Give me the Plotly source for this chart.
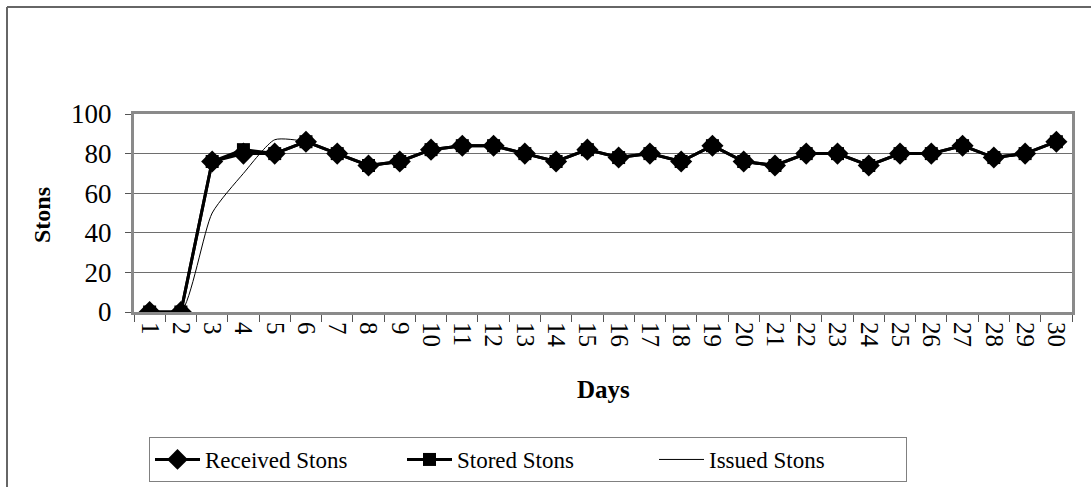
import plotly.graph_objects as go

days = [str(d) for d in range(1, 31)]
received = [0, 0, 76, 80, 80, 86, 80, 74, 76, 82, 84, 84, 80, 76, 82, 78, 80, 76, 84, 76,
            74, 80, 80, 74, 80, 80, 84, 78, 80, 86]
stored = [0, 0, 76, 82, 80, 86, 80, 74, 76, 82, 84, 84, 80, 76, 82, 78, 80, 76, 84, 76,
          74, 80, 80, 74, 80, 80, 84, 78, 80, 86]
issued = [0, 0, 50, 70, 87, 86, 80, 74, 76, 82, 84, 84, 80, 76, 82, 78, 80, 76, 84, 76,
          74, 80, 80, 74, 80, 80, 84, 78, 80, 86]
y_ticks = [0, 20, 40, 60, 80, 100]

FONT = "Liberation Serif, Times New Roman, serif"
W, H = 1091, 487
L, R, T, B = 134, 19, 114, 175
pw, ph = W - L - R, H - T - B

def px(x):
    return (x - L) / pw

def py(y):
    return (H - B - y) / ph

fig = go.Figure()
fig.add_trace(go.Scatter(
    x=days, y=issued, name="Issued Stons", mode="lines",
    line=dict(color="black", width=1, shape="spline", smoothing=0.6),
))
fig.add_trace(go.Scatter(
    x=days, y=stored, name="Stored Stons", mode="lines+markers",
    line=dict(color="black", width=3),
    marker=dict(symbol="square", size=13, color="black"),
))
fig.add_trace(go.Scatter(
    x=days, y=received, name="Received Stons", mode="lines+markers",
    line=dict(color="black", width=3),
    marker=dict(symbol="diamond", size=17, color="black"),
))

fig.update_layout(
    width=W, height=H,
    margin=dict(l=L, r=R, t=T, b=B, autoexpand=False),
    paper_bgcolor="white", plot_bgcolor="white",
    font=dict(family=FONT, size=24, color="black"),
    showlegend=True,
    legend=dict(
        orientation="h", traceorder="reversed",
        x=px(149), y=py(437), xanchor="left", yanchor="top",
        bordercolor="#808080", borderwidth=1,
        font=dict(family=FONT, size=23, color="black"),
        itemwidth=45, entrywidth=192,
    ),
    xaxis=dict(
        type="category", range=[-0.5, 29.5],
        tickangle=90, tickson="boundaries",
        ticks="outside", ticklen=7, tickcolor="#555555",
        showline=True, linecolor="#8a8a8a", linewidth=3, mirror=True,
        showgrid=False, tickfont=dict(family=FONT, size=25),
        ticklabelstandoff=2,
    ),
    yaxis=dict(
        range=[0, 100], tickvals=y_ticks,
        ticks="outside", ticklen=6, tickcolor="#555555",
        showline=True, linecolor="#8a8a8a", linewidth=3, mirror=True,
        showgrid=True, gridcolor="#6e6e6e", gridwidth=1,
        tickfont=dict(family=FONT, size=27), zeroline=False,
        ticklabelstandoff=8,
    ),
    annotations=[
        dict(text="<b>Stons</b>", x=px(42), y=py(215), xref="paper", yref="paper",
             xanchor="center", yanchor="middle",
             textangle=-90, showarrow=False, font=dict(family=FONT, size=24)),
        dict(text="<b>Days</b>", x=px(603), y=py(389), xref="paper", yref="paper",
             xanchor="center", yanchor="middle",
             showarrow=False, font=dict(family=FONT, size=25)),
    ],
    shapes=[
        dict(type="line", xref="paper", yref="paper", x0=px(7), x1=px(1100), y0=py(7), y1=py(7),
             line=dict(color="#666666", width=2)),
        dict(type="line", xref="paper", yref="paper", x0=px(7), x1=px(7), y0=py(7), y1=py(500),
             line=dict(color="#666666", width=2)),
    ],
)

fig.write_html("out.html", config={"displayModeBar": False},
               post_script="document.body.style.margin='0';document.body.style.overflow='hidden';")
